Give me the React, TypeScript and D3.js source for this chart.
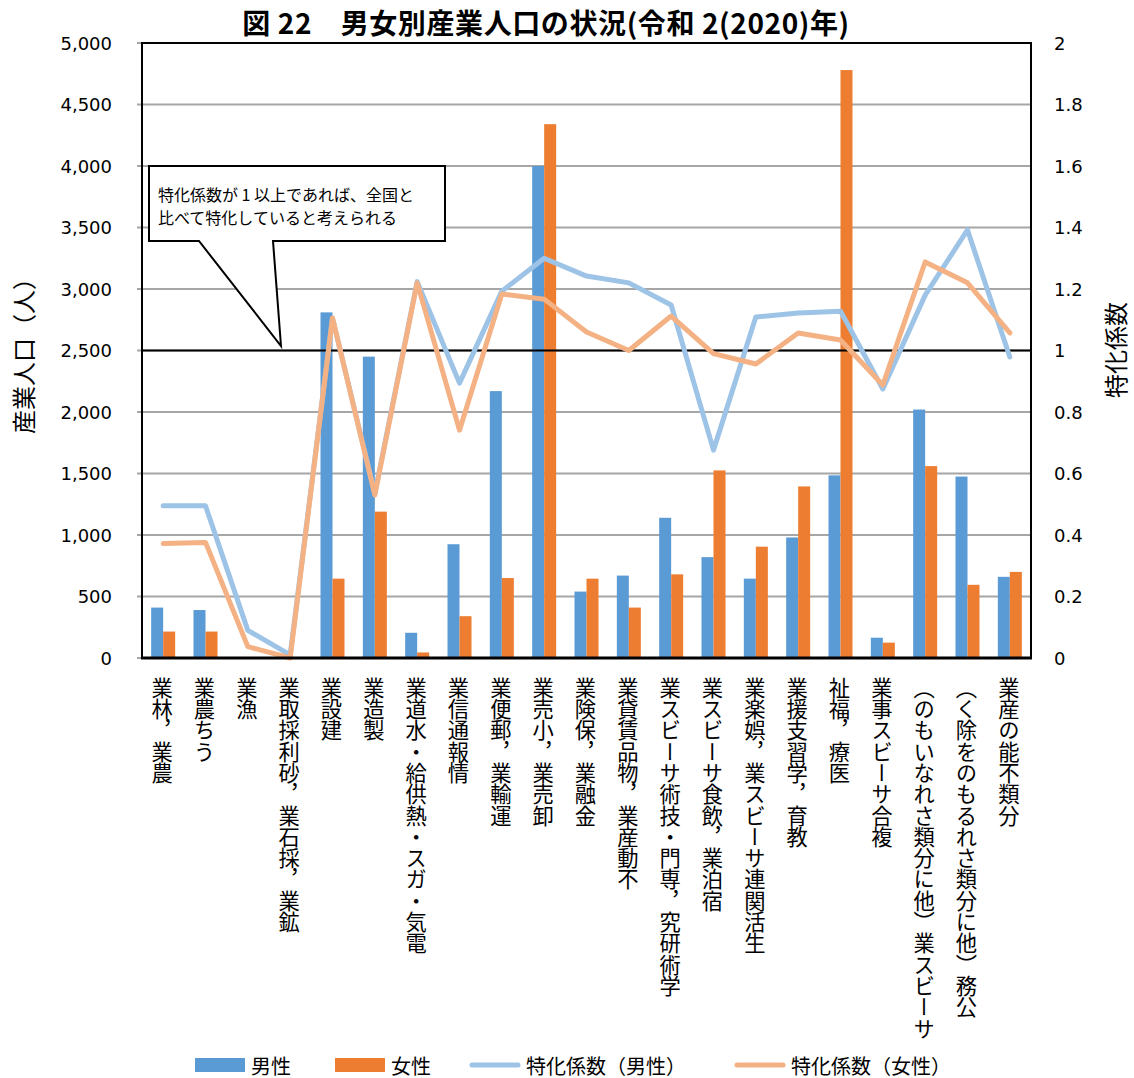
import React from "react";
import * as d3 from "d3";

const categories = [
  "農業，林業",
  "うち農業",
  "漁業",
  "鉱業，採石業，砂利採取業",
  "建設業",
  "製造業",
  "電気・ガス・熱供給・水道業",
  "情報通信業",
  "運輸業，郵便業",
  "卸売業，小売業",
  "金融業，保険業",
  "不動産業，物品賃貸業",
  "学術研究，専門・技術サービス業",
  "宿泊業，飲食サービス業",
  "生活関連サービス業，娯楽業",
  "教育，学習支援業",
  "医療，福祉",
  "複合サービス事業",
  "サービス業（他に分類されないもの）",
  "公務（他に分類されるものを除く）",
  "分類不能の産業",
];

const maleCount = [410, 390, 8, 3, 2810, 2450, 205, 925, 2170, 4000, 540, 670, 1140, 820, 645, 980, 1485, 165, 2020, 1475, 660];
const femaleCount = [215, 215, 2, 0, 645, 1190, 45, 340, 650, 4340, 645, 410, 680, 1525, 905, 1395, 4780, 125, 1560, 595, 700];

const maleLQ = [0.495, 0.495, 0.09, 0.01, 1.105, 0.535, 1.224, 0.894, 1.193, 1.3, 1.242, 1.22, 1.148, 0.676, 1.109, 1.122, 1.128, 0.875, 1.18, 1.392, 0.979];
const femaleLQ = [0.372, 0.376, 0.037, 0.0, 1.106, 0.53, 1.22, 0.741, 1.184, 1.167, 1.06, 1.0, 1.112, 0.99, 0.956, 1.057, 1.034, 0.888, 1.288, 1.22, 1.057];

const leftTicks = [0, 500, 1000, 1500, 2000, 2500, 3000, 3500, 4000, 4500, 5000];
const rightTicks = [0, 0.2, 0.4, 0.6, 0.8, 1, 1.2, 1.4, 1.6, 1.8, 2];

const title = "図 22　男女別産業人口の状況(令和 2(2020)年)";
const calloutLines = ["特化係数が 1 以上であれば、全国と", "比べて特化していると考えられる"];
const legendItems = [
  { label: "男性", kind: "bar", color: "#5B9BD5" },
  { label: "女性", kind: "bar", color: "#ED7D31" },
  { label: "特化係数（男性）", kind: "line", color: "#9DC3E6" },
  { label: "特化係数（女性）", kind: "line", color: "#F4B183" },
];

const W = 1134;
const H = 1078;
const M = { left: 142, right: 1031, top: 43, bottom: 658 };

const JP = "'Noto Sans CJK JP', 'Noto Sans', sans-serif";
const NUM = "'DejaVu Sans', 'Noto Sans', sans-serif";

// Text read bottom-to-top with upright glyphs: reverse the string and swap bracket directions
function flipForVertical(s: string) {
  return Array.from(s)
    .reverse()
    .map((c) => (c === "（" ? "）" : c === "）" ? "（" : c))
    .join("");
}

export default function App() {
  const x0 = d3
    .scaleBand<string>()
    .domain(categories)
    .range([M.left, M.right])
    .paddingInner(0.433)
    .paddingOuter(0.2165);
  const x1 = d3.scaleBand<string>().domain(["m", "f"]).range([0, x0.bandwidth()]);
  const yL = d3.scaleLinear().domain([0, 5000]).range([M.bottom, M.top]);
  const yR = d3.scaleLinear().domain([0, 2]).range([M.bottom, M.top]);
  const cx = (i: number) => (x0(categories[i]) as number) + x0.bandwidth() / 2;

  const lineGen = d3
    .line<number>()
    .x((_, i) => cx(i))
    .y((d) => yR(d));

  const fmt = d3.format(",");

  return (
    <svg width={W} height={H} style={{ display: "block", position: "absolute", left: 0, top: 0 }}>
      <rect x={0} y={0} width={W} height={H} fill="#fff" />
      {/* title */}
      <text x={546} y={34} textAnchor="middle" fontSize={28} fontWeight="bold" fontFamily={JP} fill="#000" letterSpacing={0.6}>
        {title}
      </text>

      {/* gridlines */}
      {leftTicks.map((t) => (
        <line key={t} x1={M.left - 5} x2={M.right} y1={yL(t)} y2={yL(t)} stroke="#A6A6A6" strokeWidth={2} />
      ))}

      {/* bars */}
      {categories.map((c, i) => (
        <g key={c}>
          <rect
            x={(x0(c) as number) + (x1("m") as number)}
            y={yL(maleCount[i])}
            width={x1.bandwidth()}
            height={M.bottom - yL(maleCount[i])}
            fill="#5B9BD5"
          />
          <rect
            x={(x0(c) as number) + (x1("f") as number)}
            y={yL(femaleCount[i])}
            width={x1.bandwidth()}
            height={M.bottom - yL(femaleCount[i])}
            fill="#ED7D31"
          />
        </g>
      ))}

      {/* reference line at 1.0 */}
      <line x1={M.left} x2={M.right} y1={yR(1)} y2={yR(1)} stroke="#000" strokeWidth={2} />

      {/* LQ lines */}
      <path d={lineGen(maleLQ) as string} fill="none" stroke="#9DC3E6" strokeWidth={5} strokeLinecap="round" strokeLinejoin="round" />
      <path d={lineGen(femaleLQ) as string} fill="none" stroke="#F4B183" strokeWidth={5} strokeLinecap="round" strokeLinejoin="round" />

      {/* frame */}
      <line x1={M.left} x2={M.right} y1={M.top} y2={M.top} stroke="#000" strokeWidth={2} />
      <line x1={M.left} x2={M.left} y1={M.top - 1} y2={M.bottom + 1} stroke="#000" strokeWidth={2} />
      <line x1={M.right} x2={M.right} y1={M.top - 1} y2={M.bottom + 1} stroke="#000" strokeWidth={2} />
      <line x1={M.left - 1} x2={M.right + 1} y1={M.bottom} y2={M.bottom} stroke="#000" strokeWidth={3} />

      {/* left axis labels */}
      {leftTicks.map((t) => (
        <text key={t} x={112} y={yL(t)} textAnchor="end" dominantBaseline="central" fontSize={18} fontFamily={NUM} fill="#000">
          {fmt(t)}
        </text>
      ))}
      {/* right axis labels */}
      {rightTicks.map((t) => (
        <text key={t} x={1054} y={yR(t)} textAnchor="start" dominantBaseline="central" fontSize={18} fontFamily={NUM} fill="#000">
          {String(t)}
        </text>
      ))}

      {/* axis titles */}
      <text
        x={22}
        y={350}
        transform="rotate(-90, 22, 350)"
        textAnchor="middle"
        dominantBaseline="central"
        fontSize={24}
        fontFamily={JP}
        fill="#000"
      >
        産業人口（人）
      </text>
      <text
        x={1114}
        y={350}
        transform="rotate(-90, 1114, 350)"
        textAnchor="middle"
        dominantBaseline="central"
        fontSize={24}
        fontFamily={JP}
        fill="#000"
      >
        特化係数
      </text>

      {/* x labels: vertical, upright glyphs, read bottom-to-top */}
      {categories.map((c, i) => (
        <text
          key={c}
          x={cx(i) - 1}
          y={677}
          fontSize={21.3}
          fontFamily={JP}
          fill="#000"
          style={{ writingMode: "vertical-rl", textOrientation: "mixed" } as React.CSSProperties}
        >
          {flipForVertical(c)}
        </text>
      ))}

      {/* callout */}
      <path
        d="M149,166 H445 V241 H273 L281,346 L199,241 H149 Z"
        fill="#fff"
        stroke="#000"
        strokeWidth={2}
        strokeLinejoin="miter"
      />
      {calloutLines.map((l, k) => (
        <text key={k} x={158} y={201 + k * 23} fontSize={16} fontFamily={JP} fill="#000">
          {l}
        </text>
      ))}

      {/* legend */}
      {legendItems.map((it, k) => {
        const xs = [195, 335, 470, 735][k];
        const cyL = 1065;
        return (
          <g key={it.label}>
            {it.kind === "bar" ? (
              <rect x={xs} y={cyL - 7} width={50} height={14} fill={it.color} />
            ) : (
              <line x1={xs + 2} x2={xs + 48} y1={cyL} y2={cyL} stroke={it.color} strokeWidth={5} strokeLinecap="round" />
            )}
            <text x={xs + 56} y={cyL} dominantBaseline="central" fontSize={20} fontFamily={JP} fill="#000">
              {it.label}
            </text>
          </g>
        );
      })}
    </svg>
  );
}
